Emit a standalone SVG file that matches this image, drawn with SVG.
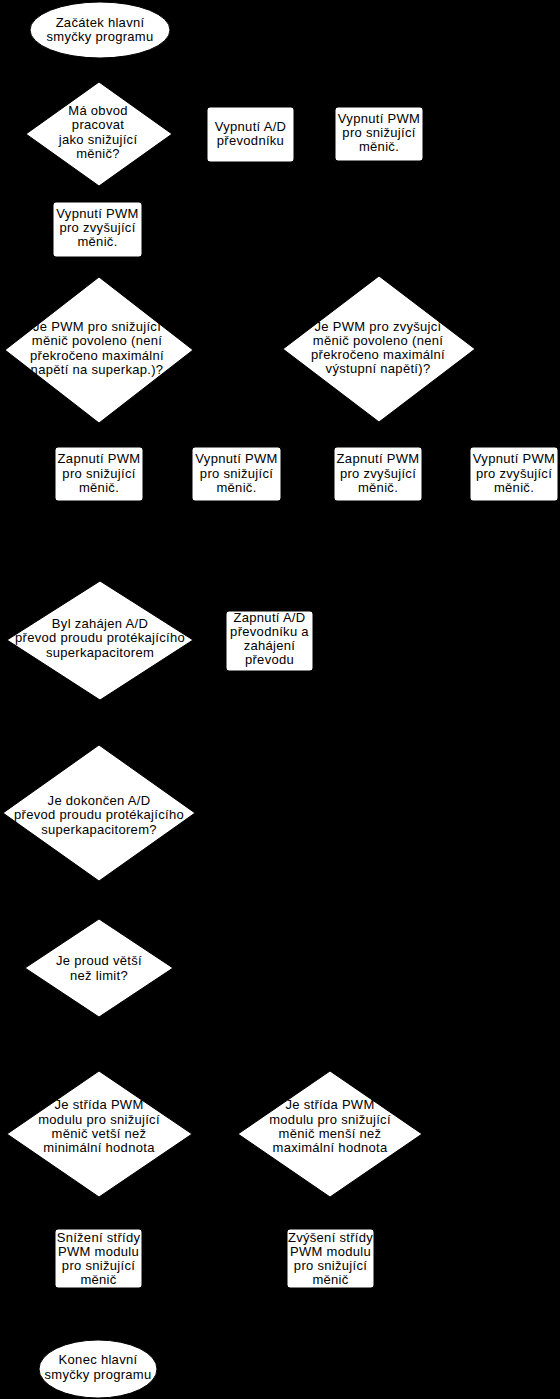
<svg xmlns="http://www.w3.org/2000/svg" width="560" height="1399" viewBox="0 0 560 1399">
<defs>
<marker id="arr" markerWidth="8" markerHeight="8" refX="7" refY="4" orient="auto" markerUnits="userSpaceOnUse">
<path d="M0,0 L8,4 L0,8 z" fill="#000"/>
</marker>
<style>
.shape{fill:#fff;stroke:#000;stroke-width:1}
.t{font-family:"Liberation Sans",Arial,sans-serif;font-size:13px;fill:#000;text-anchor:middle;letter-spacing:0.3px}
.c{fill:none;stroke:#000;stroke-width:1;marker-end:url(#arr)}
</style>
</defs>
<rect x="0" y="0" width="560" height="1399" fill="#000"/>
<g id="connectors">
<path class="c" d="M100,59 L99,82"/>
<path class="c" d="M172,134 L207,134"/>
<path class="c" d="M294,134 L335,134"/>
<path class="c" d="M99,186 L98,202"/>
<path class="c" d="M98,257 L99,277"/>
<path class="c" d="M379,161 L379,276"/>
<path class="c" d="M99,423 L99,447"/>
<path class="c" d="M193,350 L236,350 L236,447"/>
<path class="c" d="M379,422 L378,447"/>
<path class="c" d="M475,349 L514,349 L514,447"/>
<path class="c" d="M99,501 L99,582"/>
<path class="c" d="M236,501 L236,540 L99,540"/>
<path class="c" d="M378,501 L378,540 L236,540"/>
<path class="c" d="M514,501 L514,540 L378,540"/>
<path class="c" d="M193,640 L226,641"/>
<path class="c" d="M100,700 L99,745"/>
<path class="c" d="M269,671 L269,725 L99,725"/>
<path class="c" d="M99,881 L99,919"/>
<path class="c" d="M99,1017 L99,1072"/>
<path class="c" d="M173,968 L330,968 L330,1072"/>
<path class="c" d="M99,1196 L98,1229"/>
<path class="c" d="M330,1196 L330,1229"/>
<path class="c" d="M98,1288 L98,1340"/>
<path class="c" d="M330,1288 L330,1320 L98,1320"/>
</g>
<g id="start">
<ellipse class="shape" cx="100" cy="30" rx="70" ry="28"/>
<text class="t" x="100" y="27">Začátek hlavní</text>
<text class="t" x="100" y="41">smyčky programu</text>
</g>
<g id="d1">
<polygon class="shape" points="99,82 172,134 99,186 26,134"/>
<text class="t" x="98" y="115">Má obvod</text>
<text class="t" x="98" y="129">pracovat</text>
<text class="t" x="98" y="144">jako snižující</text>
<text class="t" x="98" y="158">měnič?</text>
</g>
<g id="ad-off">
<rect class="shape" x="207" y="107" width="87" height="55" rx="3"/>
<text class="t" x="250.5" y="131">Vypnutí A/D</text>
<text class="t" x="250.5" y="145">převodníku</text>
</g>
<g id="pwm-buck-off-1">
<rect class="shape" x="335" y="107" width="88" height="54" rx="3"/>
<text class="t" x="379" y="123">Vypnutí PWM</text>
<text class="t" x="379" y="137">pro snižující</text>
<text class="t" x="379" y="151">měnič.</text>
</g>
<g id="pwm-boost-off-1">
<rect class="shape" x="53" y="202" width="89" height="55" rx="3"/>
<text class="t" x="97.5" y="218">Vypnutí PWM</text>
<text class="t" x="97.5" y="232">pro zvyšující</text>
<text class="t" x="97.5" y="246">měnič.</text>
</g>
<g id="d2">
<polygon class="shape" points="99,277 193,350 99,423 5,350"/>
<text class="t" x="97" y="331">Je PWM pro snižující</text>
<text class="t" x="97" y="345">měnič povoleno (není</text>
<text class="t" x="97" y="360">překročeno maximální</text>
<text class="t" x="97" y="374">napětí na superkap.)?</text>
</g>
<g id="d3">
<polygon class="shape" points="379,276 475,349 379,422 283,349"/>
<text class="t" x="378" y="331">Je PWM pro zvyšujcí</text>
<text class="t" x="378" y="345">měnič povoleno (není</text>
<text class="t" x="378" y="359">překročeno maximální</text>
<text class="t" x="378" y="373">výstupní napětí)?</text>
</g>
<g id="pwm-buck-on">
<rect class="shape" x="55" y="447" width="88" height="54" rx="3"/>
<text class="t" x="99" y="463">Zapnutí PWM</text>
<text class="t" x="99" y="478">pro snižující</text>
<text class="t" x="99" y="492">měnič.</text>
</g>
<g id="pwm-buck-off-2">
<rect class="shape" x="192" y="447" width="89" height="54" rx="3"/>
<text class="t" x="236.5" y="463">Vypnutí PWM</text>
<text class="t" x="236.5" y="478">pro snižující</text>
<text class="t" x="236.5" y="492">měnič.</text>
</g>
<g id="pwm-boost-on">
<rect class="shape" x="334" y="447" width="88" height="54" rx="3"/>
<text class="t" x="378" y="463">Zapnutí PWM</text>
<text class="t" x="378" y="478">pro zvyšující</text>
<text class="t" x="378" y="492">měnič.</text>
</g>
<g id="pwm-boost-off-2">
<rect class="shape" x="470" y="447" width="88" height="54" rx="3"/>
<text class="t" x="514" y="463">Vypnutí PWM</text>
<text class="t" x="514" y="478">pro zvyšující</text>
<text class="t" x="514" y="492">měnič.</text>
</g>
<g id="d4">
<polygon class="shape" points="100,581 193,640 100,700 7,640"/>
<text class="t" x="100" y="628">Byl zahájen A/D</text>
<text class="t" x="100" y="642">převod proudu protékajícího</text>
<text class="t" x="100" y="657">superkapacitorem</text>
</g>
<g id="ad-on">
<rect class="shape" x="226" y="611" width="87" height="60" rx="3"/>
<text class="t" x="269.5" y="622">Zapnutí A/D</text>
<text class="t" x="269.5" y="636">převodníku a</text>
<text class="t" x="269.5" y="650">zahájení</text>
<text class="t" x="269.5" y="664">převodu</text>
</g>
<g id="d5">
<polygon class="shape" points="99,745 195,813 99,881 3,813"/>
<text class="t" x="99" y="805">Je dokončen A/D</text>
<text class="t" x="99" y="819">převod proudu protékajícího</text>
<text class="t" x="99" y="834">superkapacitorem?</text>
</g>
<g id="d6">
<polygon class="shape" points="99,919 173,968 99,1017 25,968"/>
<text class="t" x="99" y="965">Je proud větší</text>
<text class="t" x="99" y="980">než limit?</text>
</g>
<g id="d7">
<polygon class="shape" points="99,1071 192,1134 99,1197 7,1134"/>
<text class="t" x="99" y="1109">Je střída PWM</text>
<text class="t" x="99" y="1124">modulu pro snižující</text>
<text class="t" x="99" y="1138">měnič vetší než</text>
<text class="t" x="99" y="1152">minimální hodnota</text>
</g>
<g id="d8">
<polygon class="shape" points="330,1071 422,1134 330,1197 238,1134"/>
<text class="t" x="330" y="1109">Je střída PWM</text>
<text class="t" x="330" y="1124">modulu pro snižující</text>
<text class="t" x="330" y="1138">měnič menší než</text>
<text class="t" x="330" y="1152">maximální hodnota</text>
</g>
<g id="duty-down">
<rect class="shape" x="55" y="1229" width="87" height="59" rx="3"/>
<text class="t" x="98.5" y="1242">Snížení střídy</text>
<text class="t" x="98.5" y="1256">PWM modulu</text>
<text class="t" x="98.5" y="1270">pro snižující</text>
<text class="t" x="98.5" y="1284">měnič</text>
</g>
<g id="duty-up">
<rect class="shape" x="287" y="1229" width="87" height="59" rx="3"/>
<text class="t" x="330.5" y="1242">Zvýšení střídy</text>
<text class="t" x="330.5" y="1256">PWM modulu</text>
<text class="t" x="330.5" y="1270">pro snižující</text>
<text class="t" x="330.5" y="1284">měnič</text>
</g>
<g id="end">
<ellipse class="shape" cx="98" cy="1369" rx="59" ry="29"/>
<text class="t" x="98" y="1364">Konec hlavní</text>
<text class="t" x="98" y="1379">smyčky programu</text>
</g>
</svg>
